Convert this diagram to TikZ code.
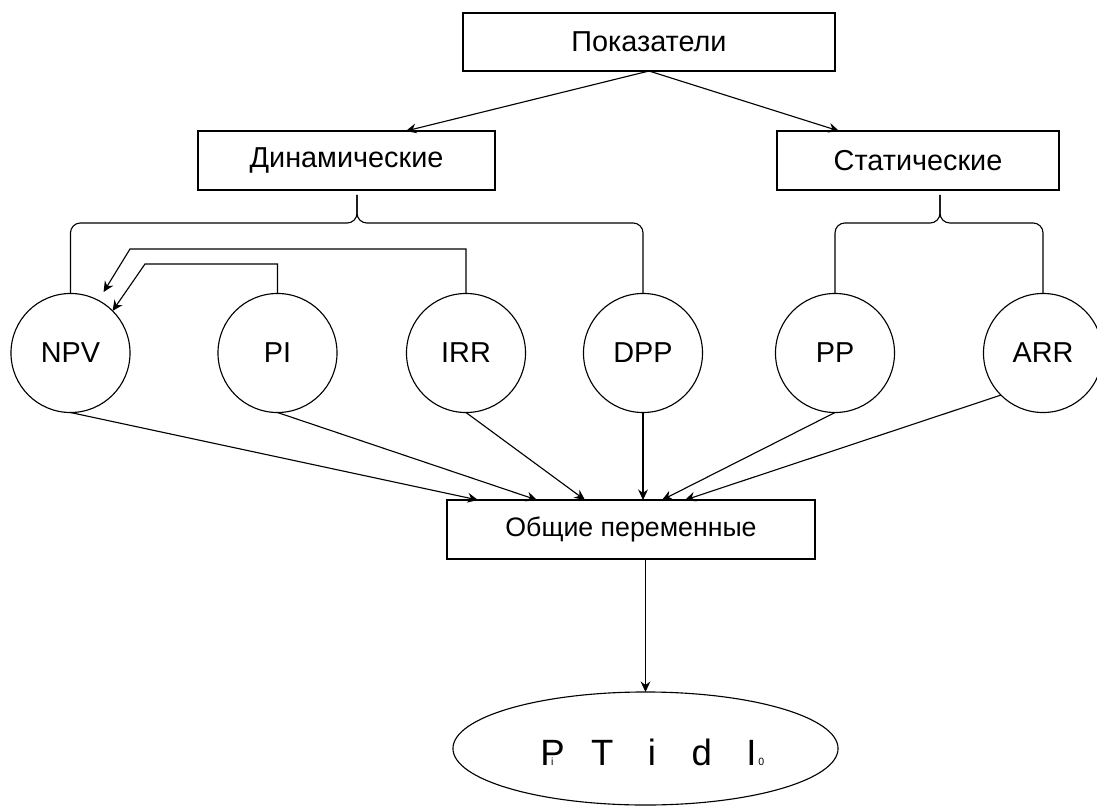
\documentclass[tikz,border=0pt]{standalone}
\usepackage{fontspec}
\setmainfont{Liberation Sans}
\usetikzlibrary{arrows.meta, calc, shapes.geometric}

\newcommand{\ltr}[1]{\makebox[35.4pt]{#1}}

\begin{document}
\begin{tikzpicture}[x=0.025cm, y=-0.025cm, line width=0.8pt,
    % Define the styles of the boxes and circles
    box/.style={draw, rectangle, minimum height=1.475cm, outer sep=0pt,
        font=\fontsize{20.5}{24}\selectfont},
    ind/.style={draw, circle, minimum size=2.975cm, inner sep=0pt, outer sep=0pt,
        font=\fontsize{20.5}{24}\selectfont},
    arr/.style={-{Stealth[length=7.5pt, width=7pt, inset=2.5pt]}},
    brace/.style={rounded corners=7pt}
]
\useasboundingbox (0,0) rectangle (1097,807);

% The boxes on top
\node[box, minimum width=9.3cm, minimum height=1.45cm] (top) at (649,42) {Показатели};
\node[box, minimum width=7.425cm] (din) at (346.5,160.5) {Динамические};
\node[box, minimum width=7.05cm] (stat) at (918,160.5) {Статические};

% The indicators
\node[ind] (npv) at (70.5,353) {NPV};
\node[ind] (pi) at (277.5,353) {PI};
\node[ind] (irr) at (466,353) {IRR};
\node[ind] (dpp) at (643,353) {DPP};
\node[ind] (pp) at (835,353) {PP};
\node[ind] (arr) at (1043,353) {ARR};

% The common box and the result
\node[box, minimum width=9.2cm, font=\fontsize{19}{22}\selectfont] (common) at (631,529.5) {Общие переменные};
\node[draw, ellipse, minimum width=9.625cm, minimum height=2.825cm, inner sep=0pt, outer sep=0pt] (result) at (645.5,748.5) {};
\node[anchor=base, inner sep=0pt, font=\fontsize{26}{30}\selectfont] (formula) at (652,765)
    {\ltr{P\llap{\fontsize{7.5}{8}\selectfont i\hspace{8pt}}}\ltr{T}\ltr{i}\ltr{d}\ltr{I\rlap{\fontsize{7.5}{8}\selectfont\,0}}};

% Define the points
\coordinate (dinin) at ($(din.north west)!0.7!(din.north east)$);
\coordinate (statin) at ($(stat.north west)!0.22!(stat.north east)$);
\coordinate (dinbr) at (357,195);
\coordinate (statbr) at (940,195);
\coordinate (in1) at (478,500);
\coordinate (in2) at (537,500);
\coordinate (in3) at (585,500);
\coordinate (in4) at (643,500);
\coordinate (in5) at (662,500);
\coordinate (in6) at (685,500);

% Draw the arrows from the top
\draw[arr] (top.south) -- (dinin);
\draw[arr] (top.south) -- (statin);

% Draw the braces
\draw[brace] (dinbr) -- ++(0,28) -| (npv.north);
\draw[brace] (dinbr) -- ++(0,28) -| (dpp.north);
\draw[brace] (statbr) -- ++(0,28) -| (pp.north);
\draw[brace] (statbr) -- ++(0,28) -| (arr.north);

% Draw the links back to NPV
\draw[arr, shorten >=7pt] (irr.north) |- (130,249) -- (npv.62);
\draw[arr] (pi.north) |- (145,264) -- (npv.45);

% Draw the arrows to the common box
\draw[arr] (npv.south) -- (in1);
\draw[arr] (pi.south) -- (in2);
\draw[arr] (irr.south) -- (in3);
\draw[arr] (dpp.south) -- (in4);
\draw[arr] (pp.south) -- (in5);
\draw[arr] (arr.south west) -- (in6);

\draw[arr] (common.south -| result.north) -- (result.north);

\end{tikzpicture}
\end{document}
